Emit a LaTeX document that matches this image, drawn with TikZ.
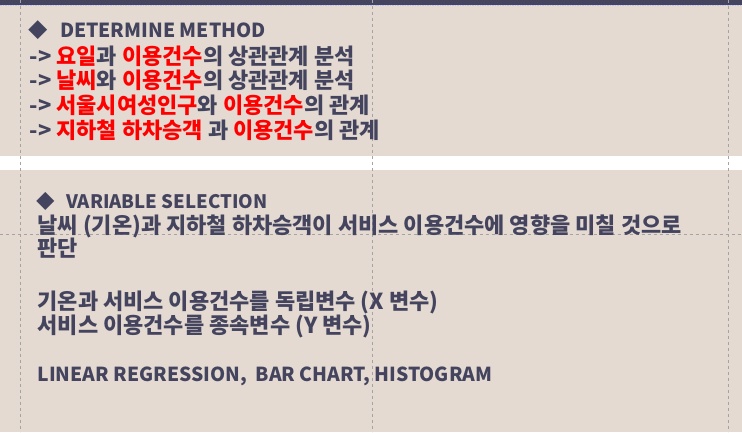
\documentclass[tikz,border=0pt]{standalone}
\usepackage{fontspec}
\usepackage{xcolor}
\setmainfont{Noto Sans CJK KR}
\definecolor{navy}{HTML}{44445E}
\definecolor{paper}{HTML}{E4DAD2}
\definecolor{guide}{HTML}{A4A4A4}
\definecolor{hl}{HTML}{FF0000}
\newcommand{\hi}[1]{\textcolor{hl}{#1}}

\begin{document}
\begin{tikzpicture}[x=1pt,y=-1pt,
  line node/.style={anchor=west,inner sep=0pt,text=navy,
    font=\bfseries\fontsize{22}{24}\selectfont,text height=17pt,text depth=3pt},
  head node/.style={line node,font=\bfseries\fontsize{19.4}{22}\selectfont},
  sel node/.style={line node},
  guide line/.style={guide,line width=0.7pt,dash pattern=on 3pt off 3pt}]
  % background
  \fill[paper] (0,0) rectangle (742,432);
  \fill[white] (0,156) rectangle (742,170);
  \fill[navy] (0,0) rectangle (742,4.5);
  \draw[blue!25,line width=1pt,dash pattern=on 1.5pt off 1pt] (0,5) -- (742,5);
  % guides
  \draw[guide line] (20,0) -- (20,432);
  \draw[guide line] (372,0) -- (372,432);
  \draw[guide line] (729,0) -- (729,432);
  \draw[guide line] (0,234) -- (742,234);
  % determine method
  \node[head node] (h1) at (28,30.5) {◆\hspace{12pt}DETERMINE METHOD};
  \node[line node] (m1) at (29,57) {->~\hi{요일}과 \hi{이용건수}의 상관관계 분석};
  \node[line node] (m2) at (29,81) {->~\hi{날씨}와 \hi{이용건수}의 상관관계 분석};
  \node[line node] (m3) at (29,106) {->~\hi{서울시여성인구}와 \hi{이용건수}의 관계};
  \node[line node] (m4) at (29,131) {->~\hi{지하철 하차승객} 과 \hi{이용건수}의 관계};
  % variable selection
  \node[head node,font=\bfseries\fontsize{18.6}{22}\selectfont] (h2) at (36,201) {◆\hspace{11pt}VARIABLE SELECTION};
  \node[sel node] (s1) at (37,226.5) {날씨 (기온)과 지하철 하차승객이 서비스 이용건수에 영향을 미칠 것으로};
  \node[sel node] (s2) at (37,249.5) {판단};
  \node[sel node] (s3) at (37,302.5) {기온과 서비스 이용건수를 독립변수 (X 변수)};
  \node[sel node] (s4) at (37,326.5) {서비스 이용건수를 종속변수 (Y 변수)};
  \node[sel node,font=\bfseries\fontsize{19.3}{22}\selectfont] (s5) at (37,374.5) {LINEAR REGRESSION,~~BAR CHART, HISTOGRAM};
\end{tikzpicture}
\end{document}
